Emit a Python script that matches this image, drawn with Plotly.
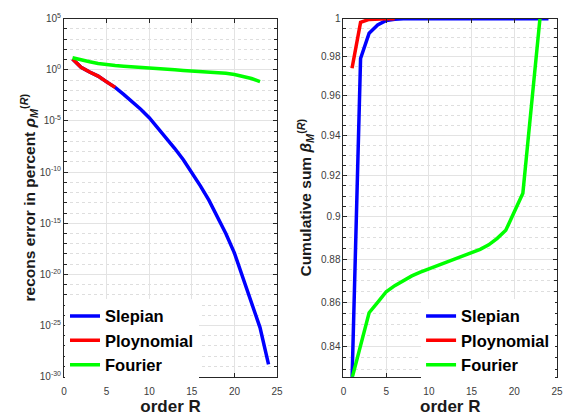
import plotly.graph_objects as go

# ---------------- data ----------------
order_slep = list(range(1, 25))
order_poly = list(range(1, 7))
order_four = list(range(1, 24))

# left panel: reconstruction error (percent)
err_slepian = [11.2, 1.78, 0.60, 0.24, 0.066, 0.019, 4.0e-3, 7.9e-4, 1.4e-4, 2.1e-5,
               2.2e-6, 2.1e-7, 2.0e-8, 1.6e-9, 1.0e-10, 4.5e-12, 1.8e-13, 5.0e-15,
               9.3e-17, 1.2e-18, 5.2e-21, 2.0e-23, 6.3e-26, 1.6e-29]
err_poly = [11.2, 1.78, 0.60, 0.24, 0.066, 0.019]
err_fourier = [14.8, 8.9, 6.0, 4.2, 3.16, 2.63, 2.24, 1.91, 1.58, 1.38, 1.23, 1.10, 0.98,
               0.87, 0.78, 0.68, 0.60, 0.52, 0.45, 0.34, 0.24, 0.14, 0.071]

# right panel: cumulative sum
cum_slepian = [0.825, 0.979, 0.9923, 0.9966, 0.9990, 0.9997, 0.9999] + [1.0] * 17
cum_poly = [0.974, 0.998, 0.9996, 0.9999, 1.0, 1.0]
cum_fourier = [0.826, 0.841, 0.8553, 0.8600, 0.8649, 0.8677, 0.8701, 0.8722, 0.8739,
               0.8754, 0.8769, 0.8784, 0.8799, 0.8814, 0.8829, 0.8846, 0.8867,
               0.8898, 0.8936, 0.9026, 0.9114, 0.9547, 1.0]

series_names = ["Slepian", "Ploynomial", "Fourier"]
series_colors = ["#0000ff", "#ff0000", "#00ff00"]

x_ticks = [0, 5, 10, 15, 20, 25]
left_y_ticks = [1e5, 1e0, 1e-5, 1e-10, 1e-15, 1e-20, 1e-25, 1e-30]
left_y_labels = ["10<sup>5</sup>", "10<sup>0</sup>", "10<sup>-5</sup>", "10<sup>-10</sup>",
                 "10<sup>-15</sup>", "10<sup>-20</sup>", "10<sup>-25</sup>", "10<sup>-30</sup>"]
left_y_minor = [10.0 ** k for k in range(-30, 6) if k % 5 != 0]
right_y_ticks = [0.84, 0.86, 0.88, 0.9, 0.92, 0.94, 0.96, 0.98, 1.0]
right_y_labels = ["0.84", "0.86", "0.88", "0.9", "0.92", "0.94", "0.96", "0.98", "1"]
right_y_minor = [round(0.825 + 0.005 * i, 3) for i in range(36)]

# ---------------- figure ----------------
W, H = 565, 420
fig = go.Figure()

left_sets = [(order_slep, err_slepian), (order_poly, err_poly), (order_four, err_fourier)]
right_sets = [(order_slep, cum_slepian), (order_poly, cum_poly), (order_four, cum_fourier)]

for (xs, ys), name, col in zip(left_sets, series_names, series_colors):
    fig.add_trace(go.Scatter(x=xs, y=ys, mode="lines", name=name,
                             line=dict(color=col, width=3.5),
                             xaxis="x", yaxis="y", legend="legend"))
for (xs, ys), name, col in zip(right_sets, series_names, series_colors):
    fig.add_trace(go.Scatter(x=xs, y=ys, mode="lines", name=name,
                             line=dict(color=col, width=3.5),
                             xaxis="x2", yaxis="y2", legend="legend2"))

axis_col = "#262626"
grid_col = "#e3e3e3"
minor_col = "#dedede"
FAM = "Liberation Sans, Arial, sans-serif"
tick_font = dict(family=FAM, size=10, color="#3c3c3c")
title_font = dict(family=FAM, size=17, color="#1a1a1a", weight="bold")
ytitle_font = dict(family=FAM, size=15.5, color="#1a1a1a", weight="bold")
legend_font = dict(family=FAM, size=16.5, color="black", weight="bold")

y_top = 1 - 12 / H
y_bot = 1 - 381.5 / H

common_x = dict(range=[0, 25], tickmode="array", tickvals=x_ticks, ticks="inside",
                ticklen=4, tickcolor=axis_col, showline=True, linecolor=axis_col,
                linewidth=1, mirror="allticks", showgrid=True, gridcolor=grid_col,
                gridwidth=1, zeroline=False, tickfont=tick_font, ticklabelstandoff=5,
                title=dict(text="order R", font=title_font, standoff=0))

common_y = dict(ticks="inside", ticklen=4, tickcolor=axis_col, showline=True,
                linecolor=axis_col, linewidth=1, mirror="allticks",
                showgrid=True, gridcolor=grid_col, zeroline=False, tickfont=tick_font,
                tickmode="array")

minor_common = dict(tickmode="array", ticks="inside", ticklen=3, tickcolor=axis_col,
                    showgrid=True, gridcolor=minor_col, griddash="dot", gridwidth=1)

fig.update_layout(
    width=W, height=H,
    margin=dict(l=0, r=0, t=0, b=0),
    paper_bgcolor="white", plot_bgcolor="white",
    xaxis=dict(domain=[62 / W, 278.5 / W], anchor="y", **common_x),
    xaxis2=dict(domain=[346 / W, 563 / W], anchor="y2", **common_x),
    yaxis=dict(domain=[y_bot, y_top], anchor="x", type="log", range=[-30, 5],
               tickvals=left_y_ticks, ticktext=left_y_labels,
               minor=dict(tickvals=left_y_minor, **minor_common),
               title=dict(text="recons error in percent <i>ρ</i><sub><i>M</i></sub><sup>(<i>R</i>)</sup>",
                          font=ytitle_font, standoff=0),
               **common_y),
    yaxis2=dict(domain=[y_bot, y_top], anchor="x2", type="log",
                range=[-0.08265, 0.0],
                tickvals=right_y_ticks, ticktext=right_y_labels,
                minor=dict(tickvals=right_y_minor, **minor_common),
                title=dict(text="Cumulative sum <i>β</i><sub><i>M</i></sub><sup>(<i>R</i>)</sup>",
                           font=ytitle_font, standoff=5),
                **common_y),
    legend=dict(x=63 / W, y=1 - 301 / H, xanchor="left", yanchor="top",
                bgcolor="white", borderwidth=0, font=legend_font,
                tracegroupgap=0, itemwidth=30),
    legend2=dict(x=561 / W, y=1 - 301 / H, xanchor="right", yanchor="top",
                 bgcolor="white", borderwidth=0, font=legend_font,
                 tracegroupgap=0, itemwidth=30),
)

fig.write_html("out.html")
